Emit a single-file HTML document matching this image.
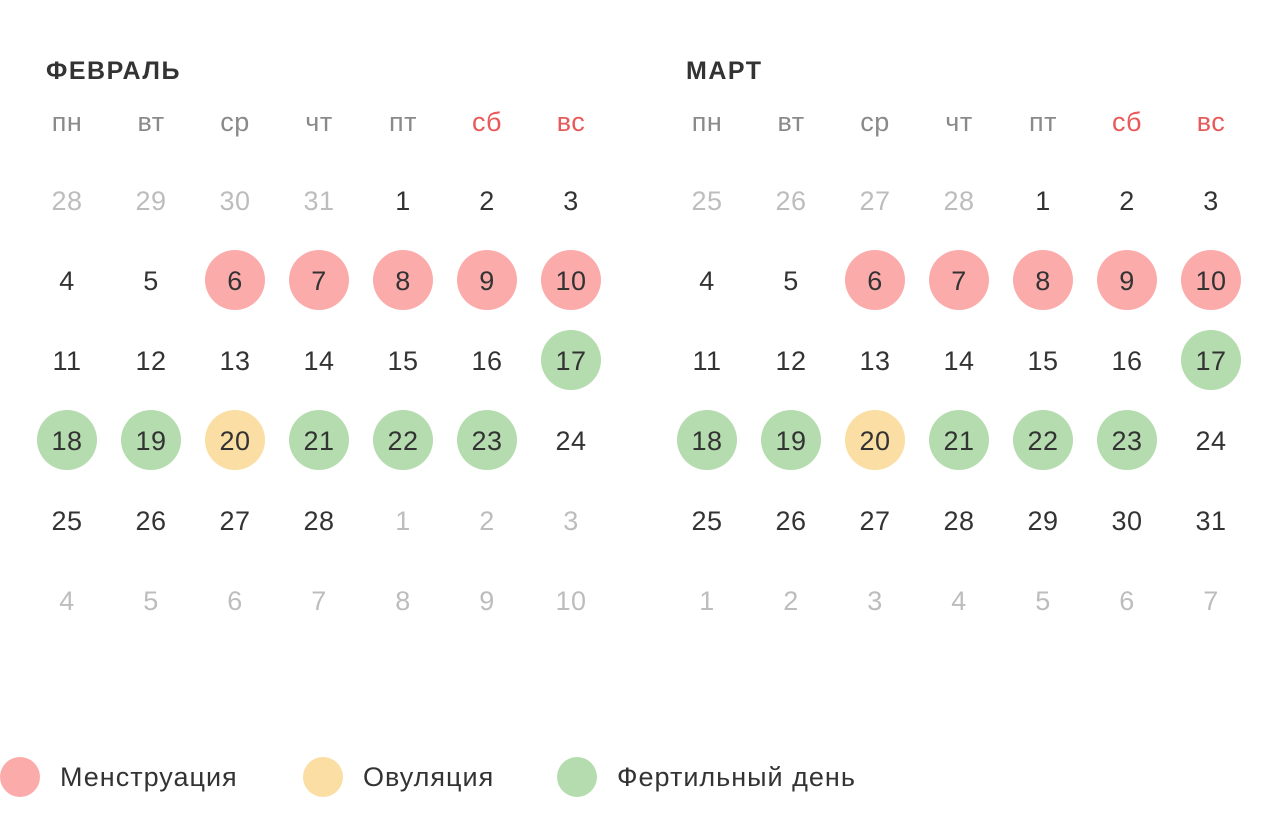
<!DOCTYPE html>
<html><head><meta charset="utf-8"><style>
body{margin:0;background:#fff;width:1280px;height:824px;overflow:hidden}
svg text{font-family:"Liberation Sans","DejaVu Sans",sans-serif}
</style></head><body>
<svg width="1280" height="824" xmlns="http://www.w3.org/2000/svg">
<text x="46" y="79" font-size="25" font-weight="bold" fill="#333" letter-spacing="1.5">ФЕВРАЛЬ</text>
<text x="686" y="79" font-size="25" font-weight="bold" fill="#333" letter-spacing="1.5">МАРТ</text>
<g font-size="27" text-anchor="middle" letter-spacing="0.5" id="g"></g>
<g font-size="27" fill="#333" letter-spacing="1">
<circle cx="20" cy="777" r="20" fill="#fcabab"/><text x="60" y="786">Менструация</text>
<circle cx="323" cy="777" r="20" fill="#fadea3"/><text x="363" y="786">Овуляция</text>
<circle cx="577" cy="777" r="20" fill="#b5dcaf"/><text x="617" y="786">Фертильный день</text>
</g>
</svg>
<script>
const g=document.getElementById('g');const NS='http://www.w3.org/2000/svg';
const C={p:'#fcabab',y:'#fadea3',e:'#b5dcaf'};
function add(x,y,t,fill,circ){
 if(circ){const c=document.createElementNS(NS,'circle');c.setAttribute('cx',x);c.setAttribute('cy',y);c.setAttribute('r',30);c.setAttribute('fill',C[circ]);g.appendChild(c);}
 const e=document.createElementNS(NS,'text');e.setAttribute('x',x);e.setAttribute('y',y+10);e.setAttribute('fill',fill);e.textContent=t;g.appendChild(e);}
const wd=['пн','вт','ср','чт','пт','сб','вс'];
const r1=[[4],[5],[6,'p'],[7,'p'],[8,'p'],[9,'p'],[10,'p']];
const r2=[[11],[12],[13],[14],[15],[16],[17,'e']];
const r3=[[18,'e'],[19,'e'],[20,'y'],[21,'e'],[22,'e'],[23,'e'],[24]];
const months=[
 {x0:67,rows:[[[28,0,1],[29,0,1],[30,0,1],[31,0,1],[1],[2],[3]],r1,r2,r3,
  [[25],[26],[27],[28],[1,0,1],[2,0,1],[3,0,1]],[4,5,6,7,8,9,10].map(n=>[n,0,1])]},
 {x0:707,rows:[[[25,0,1],[26,0,1],[27,0,1],[28,0,1],[1],[2],[3]],r1,r2,r3,
  [25,26,27,28,29,30,31].map(n=>[n]),[1,2,3,4,5,6,7].map(n=>[n,0,1])]}];
months.forEach(m=>{
 wd.forEach((w,i)=>add(m.x0+i*84,121,w,i>4?'#e85a5a':'#8a8a8a'));
 m.rows.forEach((r,ri)=>r.forEach((d,i)=>add(m.x0+i*84,200+ri*80,d[0],d[2]?'#bdbdbd':'#333',d[1]||null)));
});
</script>
</body></html>
